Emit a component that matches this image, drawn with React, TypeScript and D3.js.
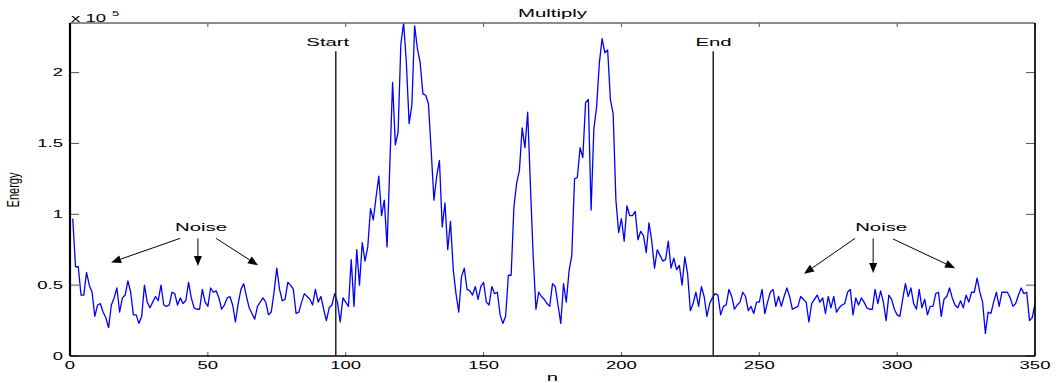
import React, { useEffect, useRef } from "react";
import * as d3 from "d3";

// energy per sample, units of 1e5, samples n = 1..350
const energy = [
  0.97, 0.63, 0.63, 0.43, 0.43, 0.59, 0.5, 0.45, 0.28, 0.36,
  0.37, 0.31, 0.27, 0.2, 0.36, 0.41, 0.48, 0.31, 0.41, 0.43,
  0.53, 0.45, 0.29, 0.29, 0.23, 0.28, 0.5, 0.38, 0.34, 0.38,
  0.42, 0.39, 0.5, 0.36, 0.35, 0.36, 0.45, 0.44, 0.36, 0.41,
  0.37, 0.39, 0.52, 0.41, 0.34, 0.33, 0.33, 0.47, 0.38, 0.35,
  0.48, 0.45, 0.46, 0.41, 0.33, 0.36, 0.41, 0.42, 0.36, 0.24,
  0.37, 0.47, 0.51, 0.42, 0.34, 0.3, 0.26, 0.35, 0.38, 0.41,
  0.38, 0.29, 0.31, 0.45, 0.62, 0.47, 0.39, 0.4, 0.52, 0.5,
  0.47, 0.3, 0.31, 0.38, 0.44, 0.42, 0.4, 0.36, 0.47, 0.38,
  0.42, 0.33, 0.25, 0.34, 0.36, 0.44, 0.38, 0.24, 0.41, 0.38,
  0.35, 0.68, 0.35, 0.75, 0.5, 0.8, 0.67, 0.77, 1.04, 0.96,
  1.12, 1.27, 0.99, 1.1, 0.77, 1.35, 1.93, 1.49, 1.58, 2.2,
  2.35, 2.07, 1.64, 1.77, 2.33, 2.17, 2.07, 1.85, 1.84, 1.78,
  1.45, 1.1, 1.27, 1.38, 0.91, 1.08, 0.75, 0.95, 0.61, 0.44,
  0.31, 0.56, 0.62, 0.47, 0.46, 0.43, 0.49, 0.4, 0.49, 0.52,
  0.38, 0.36, 0.49, 0.44, 0.45, 0.29, 0.23, 0.28, 0.57, 0.57,
  1.05, 1.22, 1.31, 1.61, 1.47, 1.72, 1.2, 0.7, 0.33, 0.45,
  0.42, 0.4, 0.37, 0.35, 0.51, 0.49, 0.36, 0.23, 0.51, 0.38,
  0.6, 0.71, 1.25, 1.26, 1.47, 1.4, 1.79, 1.81, 1.03, 1.6,
  1.76, 2.07, 2.24, 2.14, 2.16, 1.81, 1.71, 1.1, 0.87, 0.97,
  0.81, 1.06, 0.99, 0.99, 1.02, 0.82, 0.88, 0.85, 0.73, 0.94,
  0.81, 0.62, 0.75, 0.71, 0.67, 0.68, 0.81, 0.62, 0.69, 0.61,
  0.64, 0.5, 0.7, 0.58, 0.32, 0.37, 0.45, 0.35, 0.49, 0.42,
  0.28, 0.37, 0.41, 0.44, 0.43, 0.29, 0.35, 0.36, 0.47, 0.42,
  0.33, 0.36, 0.38, 0.45, 0.42, 0.32, 0.35, 0.3, 0.38, 0.38,
  0.47, 0.3, 0.38, 0.45, 0.47, 0.35, 0.42, 0.35, 0.42, 0.48,
  0.42, 0.33, 0.34, 0.35, 0.42, 0.4, 0.38, 0.24, 0.37, 0.4,
  0.43, 0.38, 0.41, 0.3, 0.42, 0.34, 0.42, 0.31, 0.34, 0.36,
  0.37, 0.45, 0.47, 0.29, 0.41, 0.36, 0.41, 0.38, 0.34, 0.33,
  0.33, 0.47, 0.37, 0.46, 0.38, 0.25, 0.43, 0.4, 0.33, 0.29,
  0.28, 0.4, 0.51, 0.42, 0.48, 0.37, 0.33, 0.47, 0.34, 0.4,
  0.29, 0.35, 0.35, 0.44, 0.45, 0.28, 0.4, 0.42, 0.48, 0.41,
  0.36, 0.34, 0.39, 0.34, 0.43, 0.38, 0.45, 0.45, 0.55, 0.45,
  0.38, 0.16, 0.31, 0.3, 0.38, 0.45, 0.35, 0.45, 0.45, 0.45,
  0.41, 0.35, 0.37, 0.43, 0.48, 0.44, 0.45, 0.25, 0.27, 0.37,
];

const xTicks = [0, 50, 100, 150, 200, 250, 300, 350];
const yTicks = [0, 0.5, 1, 1.5, 2];

// Start / End boundaries (sample index) and where their labels sit
const boundaryNames = ["Start", "End"];
const boundaryN = [96.4, 233.3];
const boundaryLabelN = [93.5, 233.4];
const boundaryTop = 2.15;

// "Noise" labels [n, value]
const noiseLabels = [
  [47.5, 0.88],
  [294.2, 0.88],
];
// arrows [fromN, fromV, toN, toV]
const noiseArrows = [
  [39.9, 0.83, 14.9, 0.66],
  [46.4, 0.83, 46.4, 0.635],
  [53, 0.83, 68.2, 0.64],
  [284.7, 0.83, 266.2, 0.58],
  [291.3, 0.83, 291.3, 0.586],
  [298.5, 0.826, 321, 0.62],
];

const SX = 1.85; // the original figure is stretched sideways
const FONT = "'Liberation Sans', Arial, Helvetica, sans-serif";

export default function App() {
  const ref = useRef<SVGSVGElement>(null);

  useEffect(() => {
    if (!ref.current) return;
    const svg = d3.select(ref.current);
    svg.selectAll("*").remove();

    const left = 70,
      right = 1035,
      top = 23,
      bottom = 356;

    const x = d3.scaleLinear().domain([0, 350]).range([left, right]);
    const y = d3.scaleLinear().domain([0, 2.35]).range([bottom, top]);

    const stretchText = (
      g: any,
      px: number,
      py: number,
      txt: string,
      size: number,
      anchor = "middle"
    ) =>
      g
        .append("text")
        .attr("transform", `translate(${px},${py}) scale(${SX},1)`)
        .attr("text-anchor", anchor)
        .style("font-family", FONT)
        .style("font-size", size + "px")
        .style("fill", "#000")
        .text(txt);

    svg.append("rect").attr("width", 1063).attr("height", 383).attr("fill", "#fff");

    svg
      .append("clipPath")
      .attr("id", "plotclip")
      .append("rect")
      .attr("x", left)
      .attr("y", top)
      .attr("width", right - left)
      .attr("height", bottom - top);

    // ticks (inward, all four sides)
    const tickG = svg.append("g").attr("stroke", "#555").attr("stroke-width", 1);
    xTicks.forEach((t) => {
      tickG.append("line").attr("x1", x(t)).attr("x2", x(t)).attr("y1", bottom).attr("y2", bottom - 4);
      tickG.append("line").attr("x1", x(t)).attr("x2", x(t)).attr("y1", top).attr("y2", top + 4);
    });
    yTicks.forEach((t) => {
      tickG.append("line").attr("x1", left).attr("x2", left + 9).attr("y1", y(t)).attr("y2", y(t));
      tickG.append("line").attr("x1", right).attr("x2", right - 9).attr("y1", y(t)).attr("y2", y(t));
    });

    // energy line
    const line = d3
      .line<number>()
      .x((d, i) => x(i + 1))
      .y((d) => y(d));

    svg
      .append("path")
      .datum(energy)
      .attr("clip-path", "url(#plotclip)")
      .attr("fill", "none")
      .attr("stroke", "#0000ff")
      .attr("stroke-width", 1.3)
      .attr("stroke-linejoin", "round")
      .attr("d", line);

    // box
    svg.append("line").attr("x1", left).attr("x2", right).attr("y1", top).attr("y2", top)
      .attr("stroke", "#666").attr("stroke-width", 1.5);
    svg.append("line").attr("x1", right).attr("x2", right).attr("y1", top).attr("y2", bottom)
      .attr("stroke", "#000").attr("stroke-width", 1.7);
    svg.append("line").attr("x1", left).attr("x2", right).attr("y1", bottom).attr("y2", bottom)
      .attr("stroke", "#000").attr("stroke-width", 1.5);
    svg.append("line").attr("x1", left).attr("x2", left).attr("y1", top).attr("y2", bottom)
      .attr("stroke", "#000").attr("stroke-width", 2.2);

    // tick labels
    xTicks.forEach((t) => stretchText(svg, x(t), 368.5, String(t), 10));
    yTicks.forEach((t) => stretchText(svg, left - 7, y(t) + 3.5, String(t), 10, "end"));

    // exponent
    stretchText(svg, left + 1, 21.5, "x 10", 10, "start");
    stretchText(svg, left + 42, 16, "5", 7, "start");

    // titles
    stretchText(svg, (left + right) / 2, 17, "Multiply", 11);
    stretchText(svg, (left + right) / 2, 381, "n", 11);
    svg
      .append("text")
      .attr("transform", `translate(19,190) scale(${SX - 0.4},1) rotate(-90)`)
      .attr("text-anchor", "middle")
      .style("font-family", FONT)
      .style("font-size", "11px")
      .text("Energy");

    // Start / End
    boundaryN.forEach((n, i) => {
      svg
        .append("line")
        .attr("x1", x(n))
        .attr("x2", x(n))
        .attr("y1", y(boundaryTop))
        .attr("y2", bottom)
        .attr("stroke", "#222")
        .attr("stroke-width", 1.5);
      stretchText(svg, x(boundaryLabelN[i]), 45.5, boundaryNames[i], 11);
    });

    // Noise annotations
    noiseLabels.forEach(([n, v]) => stretchText(svg, x(n), y(v), "Noise", 11));
    noiseArrows.forEach(([n0, v0, n1, v1]) => {
      const x0 = x(n0), y0 = y(v0), x1 = x(n1), y1 = y(v1);
      const ang = Math.atan2(y1 - y0, x1 - x0);
      const len = 10, half = 4;
      const bx = x1 - len * Math.cos(ang), by = y1 - len * Math.sin(ang);
      svg
        .append("line")
        .attr("x1", x0).attr("y1", y0).attr("x2", bx).attr("y2", by)
        .attr("stroke", "#000").attr("stroke-width", 1);
      const pts = [
        [x1, y1],
        [bx + half * Math.sin(ang), by - half * Math.cos(ang)],
        [bx - half * Math.sin(ang), by + half * Math.cos(ang)],
      ];
      svg.append("polygon").attr("points", pts.map((p) => p.join(",")).join(" ")).attr("fill", "#000");
    });
  }, []);

  return (
    <svg
      ref={ref}
      width={1063}
      height={383}
      style={{ position: "absolute", left: 0, top: 0, display: "block" }}
    />
  );
}
